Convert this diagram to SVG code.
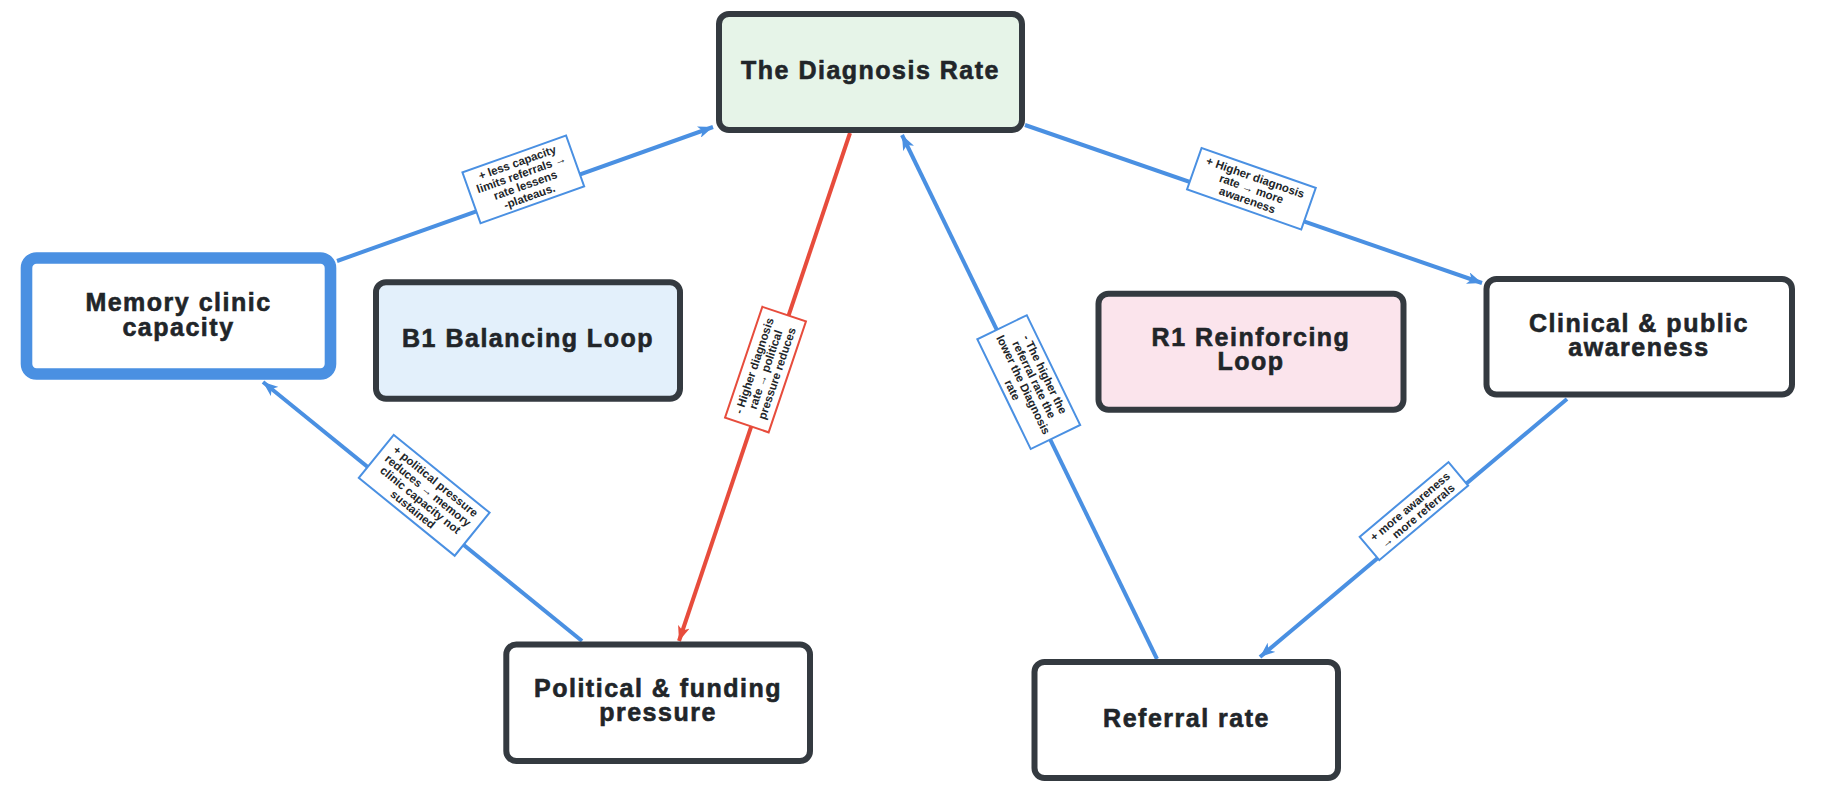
<svg xmlns="http://www.w3.org/2000/svg" width="1832" height="799" viewBox="0 0 1832 799">
<style>
.node{fill:#ffffff;stroke:#343a40;stroke-width:6}
.ntext{font-family:"Liberation Sans",Arial,sans-serif;font-weight:bold;font-size:25px;letter-spacing:1.5px;fill:#212529;stroke:#212529;stroke-width:0.6;text-anchor:middle}
.edge{fill:none;stroke:#4a90e2;stroke-width:4}
.edge.red{stroke:#e74c3c}
.lbox{fill:#ffffff;stroke:#4a90e2;stroke-width:2}
.lbox.red{stroke:#e74c3c}
.ltext{font-family:"Liberation Sans",Arial,sans-serif;font-weight:bold;font-size:11.5px;fill:#212529;text-anchor:middle}
</style>
<defs>
<marker id="ab" markerUnits="userSpaceOnUse" markerWidth="16" markerHeight="12" refX="15" refY="6" orient="auto">
<path d="M0,0 L15,6 L0,12 L4,6 z" fill="#4a90e2"/>
</marker>
<marker id="ar" markerUnits="userSpaceOnUse" markerWidth="16" markerHeight="12" refX="15" refY="6" orient="auto">
<path d="M0,0 L15,6 L0,12 L4,6 z" fill="#e74c3c"/>
</marker>
</defs>
<rect width="1832" height="799" fill="#ffffff"/>

<g id="connectors">
<line class="edge" x1="337" y1="261" x2="713" y2="127" marker-end="url(#ab)"/>
<line class="edge" x1="1025" y1="125" x2="1482" y2="283" marker-end="url(#ab)"/>
<line class="edge red" x1="850" y1="133" x2="679" y2="641" marker-end="url(#ar)"/>
<line class="edge" x1="1157" y1="659" x2="902" y2="135" marker-end="url(#ab)"/>
<line class="edge" x1="582" y1="641" x2="263" y2="382" marker-end="url(#ab)"/>
<line class="edge" x1="1567" y1="399" x2="1260" y2="657" marker-end="url(#ab)"/>

<g transform="translate(523.3,179.4) rotate(-19.6)">
<rect class="lbox" x="-55" y="-27" width="110" height="54"/>
<text class="ltext"><tspan x="0" y="-14">+ less capacity</tspan><tspan x="0" y="-2">limits referrals →</tspan><tspan x="0" y="10">rate lessens</tspan><tspan x="0" y="22">-plateaus.</tspan></text>
</g>
<g transform="translate(1251.4,188.7) rotate(19.3)">
<rect class="lbox" x="-60.5" y="-22" width="121" height="44"/>
<text class="ltext"><tspan x="0" y="-8">+ Higher diagnosis</tspan><tspan x="0" y="4">rate → more</tspan><tspan x="0" y="16">awareness</tspan></text>
</g>
<g transform="translate(765.5,369.6) rotate(-71.4)">
<rect class="lbox red" x="-58.5" y="-23" width="117" height="46"/>
<text class="ltext"><tspan x="0" y="-8">- Higher diagnosis</tspan><tspan x="0" y="4">rate → political</tspan><tspan x="0" y="16">pressure reduces</tspan></text>
</g>
<g transform="translate(1028.75,382.1) rotate(64.05)">
<rect class="lbox" x="-61" y="-27.5" width="122" height="55"/>
<text class="ltext"><tspan x="0" y="-14">- The higher the</tspan><tspan x="0" y="-2">referral rate the</tspan><tspan x="0" y="10">lower the Diagnosis</tspan><tspan x="0" y="22">rate</tspan></text>
</g>
<g transform="translate(424.2,495.3) rotate(39.07)">
<rect class="lbox" x="-61.75" y="-27.7" width="123.5" height="55.4"/>
<text class="ltext"><tspan x="0" y="-14">+ political pressure</tspan><tspan x="0" y="-2">reduces → memory</tspan><tspan x="0" y="10">clinic capacity not</tspan><tspan x="0" y="22">sustained</tspan></text>
</g>
<g transform="translate(1413.9,511.15) rotate(-40.04)">
<rect class="lbox" x="-58" y="-15.25" width="116" height="30.5"/>
<text class="ltext"><tspan x="0" y="-2">+ more awareness</tspan><tspan x="0" y="10">→ more referrals</tspan></text>
</g>
</g>

<g id="node-diagnosis">
<rect class="node" x="719" y="14" width="303" height="116" rx="10" style="fill:#e6f4e8"/>
<text class="ntext" x="870.5" y="79">The Diagnosis Rate</text>
</g>
<g id="node-memory">
<rect x="26.5" y="258" width="304" height="116" rx="10" fill="#ffffff" stroke="#4a90e2" stroke-width="11.6"/>
<text class="ntext"><tspan x="178.5" y="311">Memory clinic</tspan><tspan x="178.5" y="336">capacity</tspan></text>
</g>
<g id="node-b1">
<rect class="node" x="376" y="282.3" width="304" height="116.4" rx="10" style="fill:#e3f0fb"/>
<text class="ntext" x="528" y="347.3">B1 Balancing Loop</text>
</g>
<g id="node-r1">
<rect class="node" x="1098.5" y="293.7" width="305" height="116" rx="10" style="fill:#fbe4ec"/>
<text class="ntext"><tspan x="1251" y="346">R1 Reinforcing</tspan><tspan x="1251" y="370">Loop</tspan></text>
</g>
<g id="node-clinical">
<rect class="node" x="1486.5" y="279" width="305.5" height="115.5" rx="10"/>
<text class="ntext"><tspan x="1639" y="331.7">Clinical &amp; public</tspan><tspan x="1639" y="355.5">awareness</tspan></text>
</g>
<g id="node-political">
<rect class="node" x="506.3" y="644.5" width="303.7" height="116.5" rx="10"/>
<text class="ntext"><tspan x="658" y="696.7">Political &amp; funding</tspan><tspan x="658" y="720.7">pressure</tspan></text>
</g>
<g id="node-referral">
<rect class="node" x="1034.5" y="662" width="303.5" height="116" rx="10"/>
<text class="ntext" x="1186.5" y="726.7">Referral rate</text>
</g>
</svg>
